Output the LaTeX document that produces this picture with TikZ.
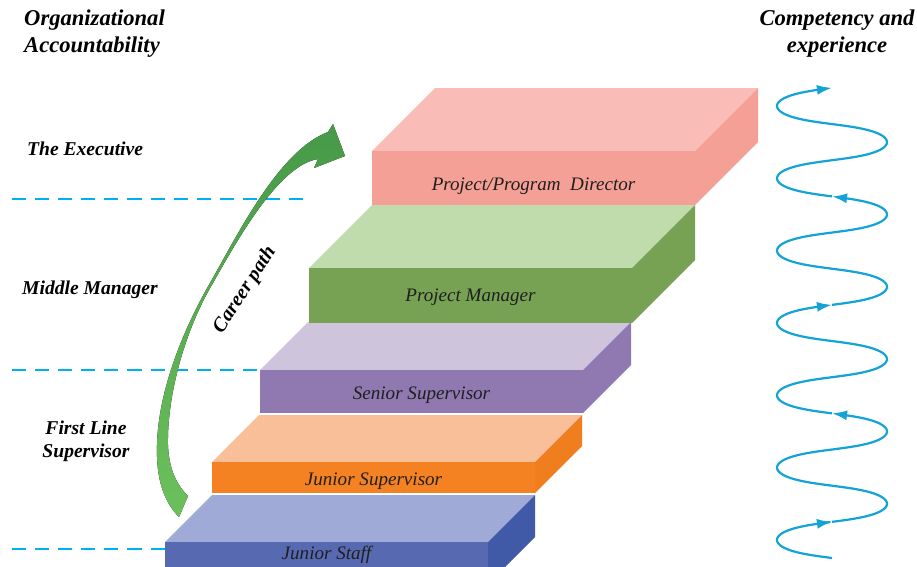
\documentclass[tikz,border=0pt]{standalone}
\usepackage{fontspec}
\setmainfont{Liberation Serif}
\usetikzlibrary{arrows.meta}

% colours of the steps: F = front, T = top, S = side
\definecolor{Fstaff}{RGB}{87,105,176}
\definecolor{Tstaff}{RGB}{160,170,214}
\definecolor{Sstaff}{RGB}{64,90,168}
\definecolor{Fjunior}{RGB}{244,130,34}
\definecolor{Tjunior}{RGB}{249,191,152}
\definecolor{Sjunior}{RGB}{240,125,30}
\definecolor{Fsenior}{RGB}{143,121,176}
\definecolor{Tsenior}{RGB}{206,196,220}
\definecolor{Ssenior}{RGB}{143,121,176}
\definecolor{Fmanager}{RGB}{119,161,83}
\definecolor{Tmanager}{RGB}{192,219,172}
\definecolor{Smanager}{RGB}{119,161,83}
\definecolor{Fdirector}{RGB}{245,160,150}
\definecolor{Tdirector}{RGB}{249,188,182}
\definecolor{Sdirector}{RGB}{245,160,150}
% lines and arrow
\definecolor{dashblue}{RGB}{0,176,240}
\definecolor{waveblue}{RGB}{20,163,214}
\definecolor{pathdark}{RGB}{70,154,72}
\definecolor{pathlight}{RGB}{108,192,92}

\begin{document}
\begin{tikzpicture}[x=0.35mm, y=-0.35mm,
    level/.style={font=\fontsize{19.5}{23}\selectfont\bfseries\itshape, inner sep=0pt},
    heading/.style={font=\fontsize{22.5}{27}\selectfont\bfseries\itshape, inner sep=0pt},
    steplabel/.style={font=\fontsize{19}{23}\selectfont\itshape, text=black!88, inner sep=0pt},
    divider/.style={dashblue, line width=2pt, dash pattern=on 14pt off 9pt},
    wave/.style={waveblue, line width=2.2pt, -{Latex[length=15pt,width=10pt]}}]

  \useasboundingbox (0,0) rectangle (917,566);
  \clip (0,0) rectangle (917,566);

  % Marches, de bas en haut : x, y (front), hauteur, profondeur, couleur, y du texte, texte
  \foreach \x/\y/\h/\d/\col/\ly/\lab [count=\i] in {
      165/542/42/47/staff/555/Junior Staff,
      212/462/31/47/junior/481/Junior Supervisor,
      260/370/43/48/senior/395/Senior Supervisor,
      309/268/55/63/manager/297/Project Manager,
      372/151/54/63/director/186/{Project/Program\ \ Director}} {
    \fill[T\col] (\x,\y) -- ++(\d,-\d) -- ++(323,0) -- ++(-\d,\d) -- cycle;
    \fill[S\col] (\x+323,\y) -- ++(\d,-\d) -- ++(0,\h) -- ++(-\d,\d) -- cycle;
    \fill[F\col] (\x,\y) rectangle ++(323,\h);
    \node[steplabel] (step\i) at (\x+161.5,\ly) {\lab};
  }

  % Lignes pointillées
  \draw[divider] (12,199) -- (307,199);
  \draw[divider] (12,370) -- (260,370);
  \draw[divider] (12,549) -- (165,549);

  % Niveaux
  \node[heading, anchor=west, align=left] (org) at (24,34) {Organizational\\Accountability};
  \node[level, anchor=west] (exec) at (27,149) {The Executive};
  \node[level, anchor=west] (middle) at (22,290) {Middle Manager};
  \node[level, align=center] (first) at (86,441) {First Line\\Supervisor};
  \node[heading, align=center] (comp) at (837,34) {Competency and\\experience};

  % Flèche courbe (bord extérieur, pointe, bord intérieur)
  \fill[top color=pathdark, bottom color=pathlight]
    (179,517) .. controls (162,500) and (156,475) .. (157,445)
    .. controls (158,395) and (180,335) .. (210,283)
    .. controls (240,230) and (280,150) .. (328,132)
    -- (333,124) -- (345,156) -- (314,168) -- (318,159)
    .. controls (280,165) and (240,235) .. (213,283)
    .. controls (185,330) and (167,395) .. (168,445)
    .. controls (169,470) and (177,485) .. (188,496)
    -- cycle;
  \node[level, font=\fontsize{20}{24}\selectfont\bfseries\itshape, rotate=57] (career) at (245,290) {Career path};

  % Spirale, par morceaux
  \foreach \a/\b in {0/180, 180/720, 720/1260, 1260/1800, 1800/2340}
    \draw[wave] plot[domain=\a:\b, samples=100, variable=\t]
      ({832-55*sin(\t)}, {558-0.2009*\t+2.2*sin(2*\t)});
\end{tikzpicture}
\end{document}
